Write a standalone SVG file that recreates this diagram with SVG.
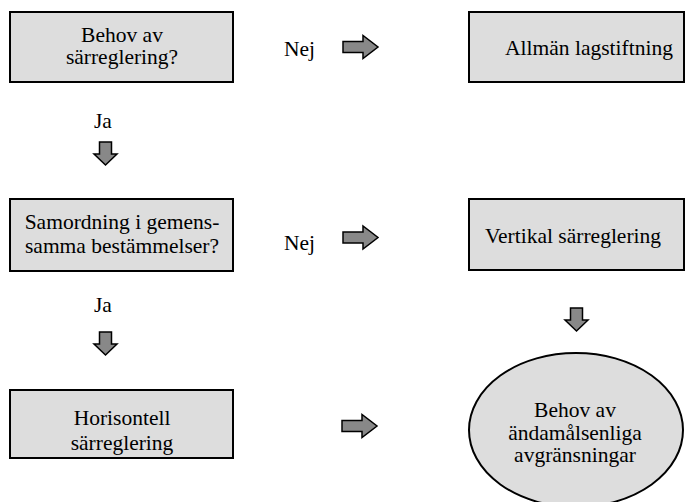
<svg xmlns="http://www.w3.org/2000/svg" width="685" height="502" viewBox="0 0 685 502">
<defs>
<path id="ar" fill="#888888" stroke="#000" stroke-width="1.5" d="M0,-5.5 H20 V-11.5 L35,0 L20,11.5 V5.5 H0 Z"/>
<path id="ad" fill="#888888" stroke="#000" stroke-width="1.5" d="M-6,0 V12 H-11.5 L0,23 L11.5,12 H6 V0 Z"/>
</defs>
<rect width="685" height="502" fill="#fff"/>
<g id="n1">
<rect fill="#dddddd" stroke="#000" stroke-width="2" x="10" y="12" width="223" height="70"/>
<text font-family="Times New Roman, serif" font-size="21.5" text-anchor="middle" x="122" y="42">Behov av</text>
<text font-family="Times New Roman, serif" font-size="21.5" text-anchor="middle" x="122" y="64">särreglering?</text>
</g>
<g id="n2">
<rect fill="#dddddd" stroke="#000" stroke-width="2" x="469" y="12" width="215" height="70"/>
<text font-family="Times New Roman, serif" font-size="21.5" text-anchor="middle" x="589" y="55">Allmän lagstiftning</text>
</g>
<g id="n3">
<rect fill="#dddddd" stroke="#000" stroke-width="2" x="10" y="199" width="223" height="72"/>
<text font-family="Times New Roman, serif" font-size="21.5" text-anchor="middle" x="122" y="229">Samordning i gemens-</text>
<text font-family="Times New Roman, serif" font-size="21.5" text-anchor="middle" x="122" y="253">samma bestämmelser?</text>
</g>
<g id="n4">
<rect fill="#dddddd" stroke="#000" stroke-width="2" x="469" y="199" width="215" height="71"/>
<text font-family="Times New Roman, serif" font-size="21.5" text-anchor="middle" x="573" y="243">Vertikal särreglering</text>
</g>
<g id="n5">
<rect fill="#dddddd" stroke="#000" stroke-width="2" x="10" y="390" width="223" height="68"/>
<text font-family="Times New Roman, serif" font-size="21.5" text-anchor="middle" x="122" y="425">Horisontell</text>
<text font-family="Times New Roman, serif" font-size="21.5" text-anchor="middle" x="122" y="450">särreglering</text>
</g>
<g id="n6">
<ellipse fill="#dddddd" stroke="#000" stroke-width="2" cx="576" cy="430" rx="107" ry="77"/>
<text font-family="Times New Roman, serif" font-size="21.5" text-anchor="middle" x="575" y="417">Behov av</text>
<text font-family="Times New Roman, serif" font-size="21.5" text-anchor="middle" x="575" y="440">ändamålsenliga</text>
<text font-family="Times New Roman, serif" font-size="21.5" text-anchor="middle" x="575" y="462">avgränsningar</text>
</g>
<g id="connectors">
<text font-family="Times New Roman, serif" font-size="21.5" x="284" y="56">Nej</text>
<use href="#ar" x="343" y="47"/>
<text font-family="Times New Roman, serif" font-size="21.5" x="94" y="128">Ja</text>
<use href="#ad" x="105.5" y="142"/>
<text font-family="Times New Roman, serif" font-size="21.5" x="284" y="250">Nej</text>
<use href="#ar" x="343" y="237.5"/>
<text font-family="Times New Roman, serif" font-size="21.5" x="94" y="312">Ja</text>
<use href="#ad" x="105.5" y="332"/>
<use href="#ad" x="576.5" y="308"/>
<use href="#ar" x="342" y="426"/>
</g>
</svg>
